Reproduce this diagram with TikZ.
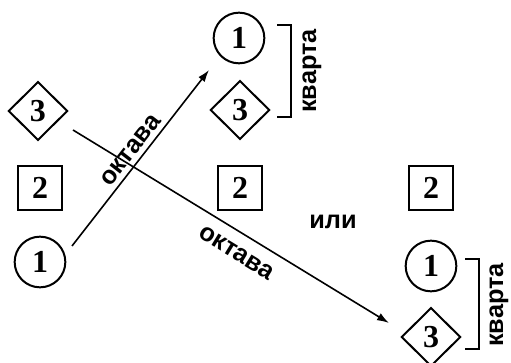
\documentclass[tikz,border=0pt]{standalone}
\usepackage{fontspec}
\setmainfont{Liberation Serif}
\setsansfont{Liberation Sans}
\usepackage{tikz}
\usetikzlibrary{arrows.meta, shapes.geometric}

\begin{document}
\begin{tikzpicture}[
    x=0.75pt, y=-0.75pt,
    >={Latex[length=9pt, width=6pt]},
    note/.style={circle, draw, line width=1.5pt, minimum size=38pt, inner sep=0pt,
        font=\fontsize{24}{24}\selectfont\bfseries},
    sq/.style={rectangle, draw, line width=1.5pt, minimum size=32.5pt, inner sep=0pt,
        font=\fontsize{24}{24}\selectfont\bfseries},
    dia/.style={diamond, draw, line width=1.5pt, minimum width=44.5pt, minimum height=44pt,
        inner sep=0pt, font=\fontsize{24}{24}\selectfont\bfseries},
    word/.style={font=\fontsize{19}{19}\selectfont\sffamily\bfseries},
    bracket/.style={line width=1.4pt},
    leap/.style={->, line width=1.2pt},
]
    \useasboundingbox (0,0) rectangle (511,363);

    % left chord
    \node[dia]  (l3) at (38,111) {3};
    \node[sq]   (l2) at (40,188) {2};
    \node[note] (l1) at (40,262) {1};

    % middle chord
    \node[note] (m1) at (239,38) {1};
    \node[dia]  (m3) at (240,110) {3};
    \node[sq]   (m2) at (240,188) {2};

    % right chord
    \node[sq]   (r2) at (431,188) {2};
    \node[note] (r1) at (431,266) {1};
    \node[dia]  (r3) at (431,337) {3};

    % arrow ends
    \coordinate (up0) at (72,246);
    \coordinate (up1) at (209,70);
    \coordinate (dn0) at (73,130);
    \coordinate (dn1) at (389,323);

    % octave leaps
    \draw[leap] (up0) -- (up1) node[midway, sloped, above, word] (oct1) {октава};
    \draw[leap] (dn0) -- (dn1) node[pos=0.55, sloped, below, word, inner sep=9pt] (oct2) {октава};

    % fourths
    \draw[bracket] (277,25) -| (291,117) -- (277,117);
    \node[word, rotate=90] (kv1) at (312,71) {кварта};
    \draw[bracket] (465,259) -| (479,349) -- (465,349);
    \node[word, rotate=90] (kv2) at (499,305) {кварта};

    \node[word] (or) at (333,222) {или};
\end{tikzpicture}
\end{document}
